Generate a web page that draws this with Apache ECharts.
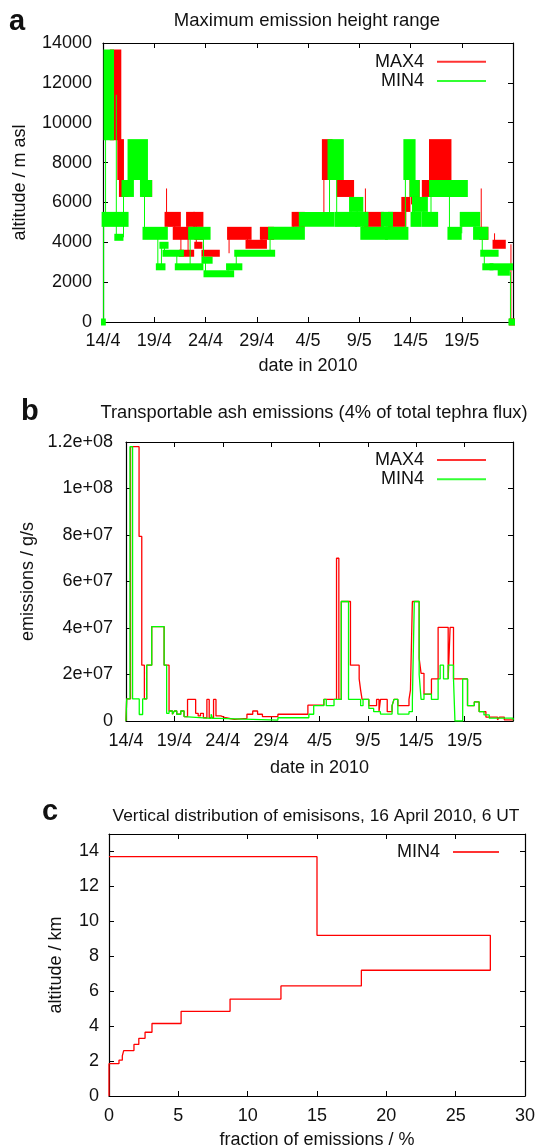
<!DOCTYPE html>
<html>
<head>
<meta charset="utf-8">
<script src="https://cdn.jsdelivr.net/npm/echarts@6/dist/echarts.min.js"></script>
<style>
html, body { margin: 0; padding: 0; background: #fff; }
#main { width: 538px; height: 1148px; }
</style>
</head>
<body>
<div id="main"></div>
<script>
// panel a: [start day, end day, lower level, upper level], days since 14/4, m asl
var max4Bands = [
    [0.86, 1.59, 9300, 13500],
    [1.59, 1.85, 7300, 9000],
    [1.75, 2.30, 6450, 6950],
    [4.00, 4.60, 6450, 6950],
    [6.20, 7.40, 4950, 5350],
    [7.00, 8.20, 4300, 4600],
    [7.60, 8.70, 3450, 3450],
    [8.30, 8.80, 4950, 5350],
    [9.00, 9.60, 4950, 5350],
    [9.10, 9.60, 4300, 4600],
    [9.10, 9.50, 3850, 3850],
    [9.80, 11.20, 3450, 3450],
    [12.30, 14.30, 4300, 4600],
    [14.10, 15.80, 3850, 3950],
    [15.50, 16.50, 4300, 4600],
    [18.60, 19.50, 4950, 5350],
    [21.55, 22.20, 7300, 9000],
    [23.00, 24.30, 6450, 6950],
    [25.60, 27.20, 4950, 5350],
    [28.00, 29.40, 4950, 5350],
    [29.30, 29.80, 5700, 6100],
    [30.10, 30.70, 6450, 6950],
    [31.30, 32.20, 6450, 6950],
    [32.00, 33.80, 7300, 9000],
    [33.80, 34.50, 6450, 6950],
    [36.90, 37.40, 4300, 4600],
    [38.20, 39.10, 3850, 3950],
    [39.80, 40.00, 0, 0]
];
var min4Bands = [
    [0.00, 0.08, 0, 0],
    [0.06, 2.30, 4950, 5350],
    [0.25, 0.88, 9300, 13500],
    [1.30, 1.80, 4250, 4250],
    [2.00, 2.82, 6450, 6950],
    [2.59, 4.19, 7300, 9000],
    [3.80, 4.60, 6450, 6950],
    [4.05, 6.13, 4300, 4600],
    [5.35, 5.90, 2770, 2770],
    [5.70, 6.20, 3850, 3850],
    [6.00, 7.70, 3450, 3450],
    [7.20, 9.60, 2770, 2770],
    [8.50, 10.30, 4300, 4600],
    [9.80, 10.50, 3100, 3100],
    [10.00, 12.60, 2420, 2420],
    [12.20, 13.40, 2770, 2770],
    [13.00, 16.60, 3450, 3450],
    [16.30, 19.50, 4300, 4600],
    [19.30, 22.40, 4950, 5350],
    [22.10, 23.30, 7300, 9000],
    [22.80, 24.60, 4950, 5350],
    [24.20, 25.20, 5700, 6100],
    [24.80, 25.70, 4950, 5350],
    [25.30, 27.60, 4300, 4600],
    [27.30, 28.10, 4950, 5350],
    [27.70, 29.60, 4300, 4600],
    [29.50, 30.30, 7300, 9000],
    [30.10, 30.70, 6450, 6950],
    [30.20, 30.90, 4950, 5350],
    [30.40, 31.50, 5700, 6100],
    [31.30, 32.50, 4950, 5350],
    [32.00, 35.40, 6450, 6950],
    [33.80, 34.80, 4300, 4600],
    [35.00, 36.60, 4950, 5350],
    [36.30, 37.40, 4300, 4600],
    [37.00, 38.40, 3450, 3450],
    [37.20, 37.90, 2770, 2770],
    [37.90, 39.80, 2770, 2770],
    [38.70, 39.50, 2500, 2500],
    [39.75, 40.00, 0, 0]
];

// panel b: [day, emission in 1e6 g/s], value held until the next point
var max4Flux = [
    [0, 0], [0.07, 9.5], [0.47, 118], [1.35, 79.4], [1.63, 24], [1.9, 9.5],
    [2.14, 24], [2.66, 40.6], [3.94, 24], [4.45, 4.3], [4.8, 2.9], [5.0, 4.3],
    [5.25, 2.9], [5.66, 4.3], [6.0, 1.9], [6.36, 9.3], [7.2, 3.3], [7.46, 2.2],
    [7.7, 3.3], [8.0, 1.4], [8.36, 9.3], [8.6, 1.4], [9.05, 9.3], [9.3, 2.2],
    [9.8, 1.4], [10.3, 0.7], [11.2, 1.1], [12.5, 2.9], [13.1, 4.3], [13.6, 2.9],
    [14.1, 1.9], [15.7, 2.9], [18.8, 6.8], [20.45, 9.3], [21.76, 70], [22.0, 9.3],
    [22.25, 51.4], [23.2, 24], [24.1, 18.1], [24.25, 13.3], [24.4, 9.3], [25.1, 6.6],
    [25.9, 9.3], [26.15, 4.0], [26.3, 9.3], [27.0, 4.0], [27.5, 6.6], [27.7, 9.3],
    [28.1, 6.6], [29.25, 9.3], [29.4, 13.3], [29.6, 51.4], [30.3, 27], [30.5, 20.5],
    [30.8, 11.6], [31.57, 18.1], [32.26, 40.3], [33.3, 18.1], [33.5, 40.3], [33.85, 18.1],
    [35.3, 6.6], [36.0, 8.2], [36.5, 4.0], [37.2, 1.7], [38.4, 0.5], [38.6, 1.7],
    [39.1, 0.5], [40, 0.3]
];
var min4Flux = [
    [0, 0], [0.07, 9.5], [0.41, 118], [0.68, 9.5], [1.37, 2.8], [1.72, 9.5],
    [2.14, 24], [2.66, 40.6], [3.94, 24], [4.2, 3.3], [4.45, 4.3], [4.8, 2.9],
    [5.0, 4.3], [5.25, 2.9], [5.66, 4.3], [6.0, 1.9], [6.2, 1.1], [8.8, 2.9],
    [8.95, 1.1], [9.6, 0.4], [15.7, 1.4], [18.9, 2.9], [19.4, 6.6], [20.45, 9.3],
    [20.7, 6.6], [21.5, 9.3], [22.25, 51.4], [23.0, 9.3], [24.25, 6.6], [24.5, 9.3],
    [25.1, 5.4], [25.6, 4.0], [26.3, 3.0], [27.5, 6.6], [27.7, 9.3], [28.1, 3.0],
    [29.25, 4.0], [29.6, 9.3], [29.8, 51.4], [30.3, 20], [30.5, 9.3], [30.8, 11.6],
    [31.57, 9.3], [32.26, 18.1], [32.47, 24], [32.82, 18.1], [33.3, 24], [33.85, 18.1],
    [34.0, 0], [34.8, 18.1], [35.3, 6.6], [36.0, 8.2], [36.5, 4.0], [37.0, 2.6],
    [37.55, 1.2], [40, 0.3]
];

// panel c: layer bottoms (km, last is the top) and fraction of emissions per layer (%)
var layerBase = [1.85, 2.05, 2.3, 2.6, 2.95, 3.3, 3.65, 4.15, 4.85, 5.55, 6.3, 7.2, 9.2, 13.7];
var layerFrac = [0.72, 0.96, 1.06, 1.8, 2.15, 2.6, 3.1, 5.2, 8.73, 12.4, 18.2, 27.5, 15.0];

var dateLabels = ['14/4', '19/4', '24/4', '29/4', '4/5', '9/5', '14/5', '19/5', ''];
var fluxLabels = ['0', '2e+07', '4e+07', '6e+07', '8e+07', '1e+08', '1.2e+08'];

var FONT = '"Liberation Sans", Arial, sans-serif';
var INK = '#111';
var RED = '#ff0000';
var GREEN = '#00ff00';

// staircase outline of the vertical profile
var profile = [[0, 0], [0, layerBase[0]]];
for (var i = 0; i < layerFrac.length; i++) {
    profile.push([layerFrac[i], layerBase[i]]);
    profile.push([layerFrac[i], layerBase[i + 1]]);
}
profile.push([0, layerBase[layerBase.length - 1]]);

function bandSeries(name, bands, color) {
    return {
        name: name,
        type: 'custom',
        xAxisIndex: 0,
        yAxisIndex: 0,
        data: bands,
        encode: {x: [0, 1], y: [2, 3]},
        renderItem: function (params, api) {
            var b = bands[params.dataIndex];
            var pad = 3.5, hpad = 2;
            var tl = api.coord([b[0], b[3]]);
            var br = api.coord([b[1], b[2]]);
            var kids = [{
                type: 'rect',
                shape: {x: tl[0] - hpad, y: tl[1] - pad, width: br[0] - tl[0] + 2 * hpad, height: br[1] - tl[1] + 2 * pad},
                style: {fill: color}
            }];
            var prev = bands[params.dataIndex - 1];
            if (prev) {
                var p1 = api.coord([b[0], (prev[2] + prev[3]) / 2]);
                var p2 = api.coord([b[0], (b[2] + b[3]) / 2]);
                kids.push({
                    type: 'line',
                    shape: {x1: p1[0], y1: p1[1], x2: p2[0], y2: p2[1]},
                    style: {stroke: color, lineWidth: 1}
                });
            }
            return {type: 'group', children: kids};
        }
    };
}

function xAx(grid, max, top, fmt, name, gap, margin) {
    return {
        type: 'value', gridIndex: grid, min: 0, max: max, interval: 5,
        position: top ? 'top' : 'bottom',
        axisLine: {onZero: false, lineStyle: {color: '#000', width: 1.2}},
        axisTick: {inside: true, length: 5, lineStyle: {color: '#000'}},
        axisLabel: {show: !top, margin: margin, formatter: fmt, fontSize: 18, fontFamily: FONT, color: INK},
        splitLine: {show: false},
        name: top ? '' : name, nameLocation: 'middle', nameGap: gap,
        nameTextStyle: {fontSize: 18, fontFamily: FONT, color: INK}
    };
}
function yAx(grid, max, interval, right, fmt, name, gap, margin) {
    return {
        type: 'value', gridIndex: grid, min: 0, max: max, interval: interval,
        position: right ? 'right' : 'left',
        axisLine: {onZero: false, lineStyle: {color: '#000', width: 1.2}},
        axisTick: {inside: true, length: 5, lineStyle: {color: '#000'}},
        axisLabel: {show: !right, margin: margin, formatter: fmt, showMaxLabel: max % interval === 0,
            fontSize: 18, fontFamily: FONT, color: INK},
        splitLine: {show: false},
        name: right ? '' : name, nameLocation: 'middle', nameGap: gap,
        nameTextStyle: {fontSize: 18, fontFamily: FONT, color: INK}
    };
}
function dateFmt(v) { return dateLabels[Math.round(v / 5)] || ''; }
function fluxFmt(v) { return fluxLabels[Math.round(v / 20)] || ''; }
function plainFmt(v) { return String(v); }

function legendAt(right, top, width, items) {
    return {
        orient: 'vertical', align: 'right', right: right, top: top,
        itemWidth: width, itemHeight: 2, itemGap: 1.3, icon: 'rect', selectedMode: false,
        textStyle: {fontSize: 18, fontFamily: FONT, color: INK, padding: [0, 8, 0, 0]},
        data: items.map(function (it) {
            return {name: it[0], itemStyle: {color: it[1], borderWidth: 0, opacity: 0.8}};
        })
    };
}

function label(x, y, text, size, bold, align) {
    return {
        type: 'text', x: x, y: y, silent: true,
        style: {text: text, fill: INK, align: align, verticalAlign: 'middle',
            font: (bold ? 'bold ' : '') + size + 'px ' + FONT}
    };
}

var chart = echarts.init(document.getElementById('main'), null, {renderer: 'canvas'});
chart.setOption({
    animation: false,
    backgroundColor: '#fff',
    grid: [
        {left: 103, top: 43, width: 410, height: 279, containLabel: false, outerBoundsMode: 'none'},
        {left: 126, top: 442, width: 387, height: 279, containLabel: false, outerBoundsMode: 'none'},
        {left: 109, top: 834, width: 416, height: 262, containLabel: false, outerBoundsMode: 'none'}
    ],
    xAxis: [
        xAx(0, 40, false, dateFmt, 'date in 2010', 35, 10),
        xAx(0, 40, true),
        xAx(1, 40, false, dateFmt, 'date in 2010', 38, 11),
        xAx(1, 40, true),
        xAx(2, 30, false, plainFmt, 'fraction of emissions / %', 35, 11),
        xAx(2, 30, true)
    ],
    yAxis: [
        yAx(0, 14000, 2000, false, plainFmt, 'altitude / m asl', 74, 11),
        yAx(0, 14000, 2000, true),
        yAx(1, 120, 20, false, fluxFmt, 'emissions / g/s', 82, 13),
        yAx(1, 120, 20, true),
        yAx(2, 15, 2, false, plainFmt, 'altitude / km', 44, 10),
        yAx(2, 15, 2, true)
    ],
    legend: [
        legendAt(47, 47.7, 49, [['MAX4', RED], ['MIN4', GREEN]]),
        legendAt(47, 446, 49, [['MAX4', RED], ['MIN4', GREEN]]),
        legendAt(34, 838, 46, [['MIN4', RED]])
    ],
    graphic: [
        label(9, 21.7, 'a', 29, true, 'left'),
        label(307, 20.8, 'Maximum emission height range', 18.5, false, 'center'),
        label(21, 411.6, 'b', 29, true, 'left'),
        label(314, 413.3, 'Transportable ash emissions (4% of total tephra flux)', 18.3, false, 'center'),
        label(42, 812, 'c', 29, true, 'left'),
        label(316, 816, 'Vertical distribution of emisisons, 16 April 2010, 6 UT', 17.4, false, 'center')
    ],
    series: [
        bandSeries('MAX4', max4Bands, RED),
        bandSeries('MIN4', min4Bands, GREEN),
        {
            name: 'MAX4', type: 'line', xAxisIndex: 2, yAxisIndex: 2, step: 'end',
            showSymbol: false, data: max4Flux, color: RED,
            lineStyle: {color: RED, width: 1.3}
        },
        {
            name: 'MIN4', type: 'line', xAxisIndex: 2, yAxisIndex: 2, step: 'end',
            showSymbol: false, data: min4Flux, color: GREEN,
            lineStyle: {color: GREEN, width: 1.3}
        },
        {
            name: 'MIN4', type: 'line', xAxisIndex: 4, yAxisIndex: 4,
            showSymbol: false, data: profile, color: RED,
            lineStyle: {color: RED, width: 1.3}
        }
    ]
});
</script>
</body>
</html>
